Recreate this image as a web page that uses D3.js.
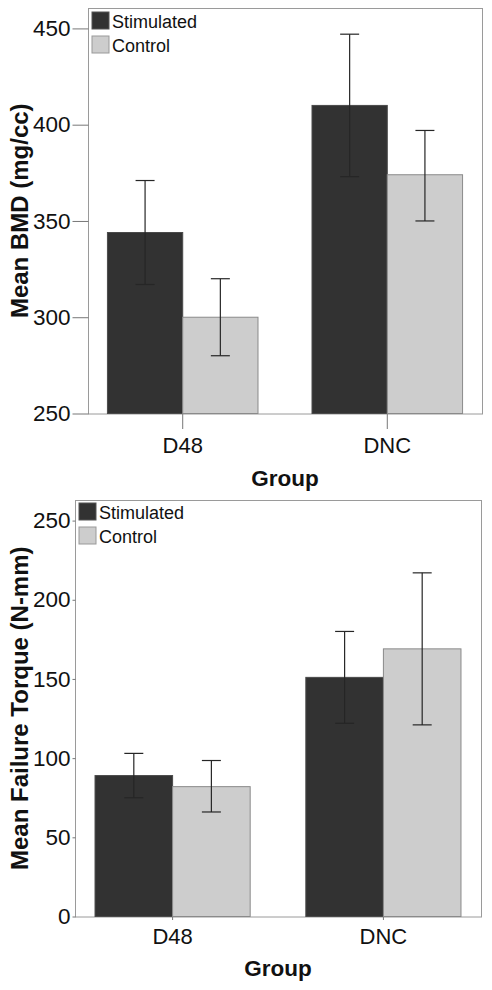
<!DOCTYPE html>
<html>
<head>
<meta charset="utf-8">
<script src="https://cdn.jsdelivr.net/npm/d3@7"></script>
<style>
  html, body { margin: 0; padding: 0; background: #fff; }
  svg { display: block; }
  text { font-family: "Liberation Sans", Arial, sans-serif; }
</style>
</head>
<body>
<script>
// ---- data ----
const groups = ["D48", "DNC"];
const seriesNames = ["Stimulated", "Control"];

const bmdStimulated = [344, 410];
const bmdStimLow = [317, 373];
const bmdStimHigh = [371, 447];
const bmdControl = [300, 374];
const bmdCtrlLow = [280, 350];
const bmdCtrlHigh = [320, 397];
const bmdTicks = [250, 300, 350, 400, 450];

const torqueStimulated = [89, 151];
const torqueStimLow = [75, 122];
const torqueStimHigh = [103, 180];
const torqueControl = [82, 169];
const torqueCtrlLow = [66, 121];
const torqueCtrlHigh = [98.5, 217];
const torqueTicks = [0, 50, 100, 150, 200, 250];

const colors = { Stimulated: "#323232", Control: "#cdcdcd" };

const W = 492, H = 990;
const svg = d3.select("body").append("svg").attr("width", W).attr("height", H);

function drawChart(cfg) {
  const g = svg.append("g");
  const x = d3.scaleBand().domain(groups).range([cfg.left, cfg.right])
    .paddingInner(0.264).paddingOuter(0.095);
  const xs = d3.scaleBand().domain(seriesNames).range([0, x.bandwidth()]);
  const y = d3.scaleLinear().domain(cfg.domain).range([cfg.bottom, cfg.top]);

  // frame
  g.append("rect")
    .attr("x", cfg.left + 0.5).attr("y", cfg.top + 0.5)
    .attr("width", cfg.right - cfg.left).attr("height", cfg.bottom - cfg.top)
    .attr("fill", "none").attr("stroke", "#9a9a9a").attr("stroke-width", 1);

  // y axis
  const yAxis = d3.axisLeft(y).tickValues(cfg.ticks).tickSize(cfg.left - 72).tickPadding(2);
  const ya = g.append("g").attr("transform", `translate(${cfg.left + 0.5},0)`).call(yAxis);
  ya.select(".domain").remove();
  ya.selectAll(".tick line").attr("stroke", "#777");
  ya.selectAll(".tick text").attr("font-size", 22.5).attr("fill", "#111")
    .attr("font-family", "Liberation Sans, Arial, sans-serif");

  // x axis
  const xAxis = d3.axisBottom(x).tickSize(cfg.xTick).tickPadding(cfg.xPad);
  const xa = g.append("g").attr("transform", `translate(0,${cfg.bottom + 0.5})`).call(xAxis);
  xa.select(".domain").remove();
  xa.selectAll(".tick line").attr("stroke", "#777");
  xa.selectAll(".tick text").attr("font-size", 22).attr("fill", "#111")
    .attr("font-family", "Liberation Sans, Arial, sans-serif");

  // bars
  const rows = [];
  groups.forEach((grp, i) => {
    rows.push({ grp, s: "Stimulated", v: cfg.stim[i], lo: cfg.stimLo[i], hi: cfg.stimHi[i] });
    rows.push({ grp, s: "Control", v: cfg.ctrl[i], lo: cfg.ctrlLo[i], hi: cfg.ctrlHi[i] });
  });
  g.selectAll("rect.bar").data(rows).enter().append("rect")
    .attr("class", "bar")
    .attr("x", d => x(d.grp) + xs(d.s))
    .attr("y", d => y(d.v))
    .attr("width", xs.bandwidth())
    .attr("height", d => cfg.bottom - y(d.v))
    .attr("fill", d => colors[d.s])
    .attr("stroke", d => d.s === "Control" ? "#8a8a8a" : "#4a4a4a")
    .attr("stroke-width", 1);

  // error bars
  const cap = 9.5;
  const eb = g.selectAll("g.err").data(rows).enter().append("g").attr("class", "err")
    .attr("stroke", "#262626").attr("stroke-width", 1.2);
  eb.append("line")
    .attr("x1", d => x(d.grp) + xs(d.s) + xs.bandwidth() / 2)
    .attr("x2", d => x(d.grp) + xs(d.s) + xs.bandwidth() / 2)
    .attr("y1", d => y(d.lo)).attr("y2", d => y(d.hi));
  ["lo", "hi"].forEach(k => {
    eb.append("line")
      .attr("x1", d => x(d.grp) + xs(d.s) + xs.bandwidth() / 2 - cap)
      .attr("x2", d => x(d.grp) + xs(d.s) + xs.bandwidth() / 2 + cap)
      .attr("y1", d => y(d[k])).attr("y2", d => y(d[k]));
  });

  // legend
  const lg = g.append("g");
  seriesNames.forEach((s, i) => {
    lg.append("rect")
      .attr("x", cfg.legX).attr("y", cfg.legY + i * 24)
      .attr("width", 17).attr("height", 17)
      .attr("fill", colors[s]).attr("stroke", s === "Control" ? "#999" : "#555");
    lg.append("text")
      .attr("x", cfg.legX + 20).attr("y", cfg.legY + i * 24 + 16)
      .attr("font-size", 18).attr("fill", "#111").text(s);
  });

  // axis titles
  g.append("text")
    .attr("transform", `translate(${cfg.yTitleX},${(cfg.top + cfg.bottom) / 2}) rotate(-90)`)
    .attr("text-anchor", "middle").attr("font-weight", "bold").attr("font-size", 24)
    .attr("fill", "#111").text(cfg.yTitle);
  g.append("text")
    .attr("x", (cfg.left + cfg.right) / 2).attr("y", cfg.xTitleY)
    .attr("text-anchor", "middle").attr("font-weight", "bold").attr("font-size", 22.5)
    .attr("fill", "#111").text("Group");
}

drawChart({
  left: 88, right: 482, top: 8, bottom: 413.5,
  domain: [250, 460.6], ticks: bmdTicks,
  stim: bmdStimulated, stimLo: bmdStimLow, stimHi: bmdStimHigh,
  ctrl: bmdControl, ctrlLo: bmdCtrlLow, ctrlHi: bmdCtrlHigh,
  xTick: 15, xPad: 8, xTitleY: 486,
  legX: 92, legY: 12,
  yTitle: "Mean BMD (mg/cc)", yTitleX: 28
});

drawChart({
  left: 75, right: 481, top: 500, bottom: 916.5,
  domain: [0, 263], ticks: torqueTicks,
  stim: torqueStimulated, stimLo: torqueStimLow, stimHi: torqueStimHigh,
  ctrl: torqueControl, ctrlLo: torqueCtrlLow, ctrlHi: torqueCtrlHigh,
  xTick: 3, xPad: 8, xTitleY: 976,
  legX: 79, legY: 503,
  yTitle: "Mean Failure Torque (N-mm)", yTitleX: 28
});
</script>
</body>
</html>
